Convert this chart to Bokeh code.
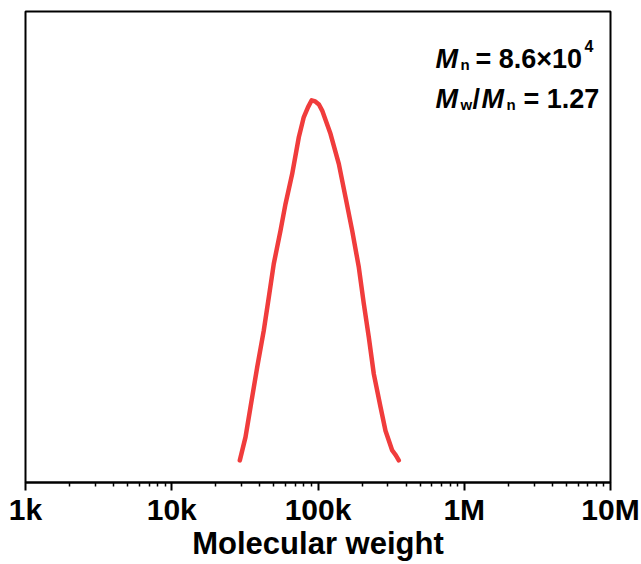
from bokeh.plotting import figure
from bokeh.models import Range1d, FixedTicker, Label
from bokeh.embed import file_html
from bokeh.resources import INLINE

# ---- data ----
mol_weight = [29200, 31940, 34550, 38400, 42600, 46080, 49850, 55410, 59950,
              66620, 73930, 79970, 85500, 90500, 95800, 101500, 106800, 121750,
              138800, 154200, 171300, 190100, 205700, 222600, 240700, 267600,
              289400, 321700, 340000, 356800]
intensity = [0.058, 0.119, 0.198, 0.303, 0.399, 0.486, 0.574, 0.661, 0.731,
             0.810, 0.906, 0.959, 0.985, 1.003, 1.000, 0.992, 0.976, 0.915,
             0.836, 0.749, 0.661, 0.565, 0.469, 0.381, 0.285, 0.198, 0.136,
             0.084, 0.072, 0.058]

major_ticks = [1e3, 1e4, 1e5, 1e6, 1e7]
major_labels = ["1k", "10k", "100k", "1M", "10M"]
minor_ticks = [m * d for d in [1e3, 1e4, 1e5, 1e6] for m in range(2, 10)]
x_title = "Molecular weight"

FONT = "Liberation Sans"
RED = "#F03C3C"

p = figure(width=641, height=564, x_axis_type="log",
           x_range=Range1d(1e3, 1e7), y_range=Range1d(0, 1.236),
           output_backend="svg", toolbar_location=None,
           min_border_left=25, min_border_right=31, min_border_top=11,
           min_border_bottom=82)

p.line(mol_weight, intensity, line_color=RED, line_width=4.5,
       line_join="round", line_cap="round")

p.xgrid.visible = False
p.ygrid.visible = False
p.yaxis.visible = False
p.outline_line_color = "black"
p.outline_line_width = 2
p.background_fill_color = "white"
p.border_fill_color = "white"

ax = p.xaxis[0]
ax.ticker = FixedTicker(ticks=major_ticks, minor_ticks=minor_ticks)
ax.major_label_overrides = {t: l for t, l in zip(major_ticks, major_labels)}
ax.axis_line_width = 2
ax.axis_line_color = "black"
ax.major_tick_in = 0
ax.major_tick_out = 8
ax.major_tick_line_width = 2
ax.minor_tick_in = 0
ax.minor_tick_out = 4
ax.minor_tick_line_width = 1.5
ax.major_label_text_font = FONT
ax.major_label_text_font_style = "bold"
ax.major_label_text_font_size = "30px"
ax.major_label_text_color = "black"
ax.major_label_standoff = 2
ax.axis_label = x_title
ax.axis_label_text_font = FONT
ax.axis_label_text_font_style = "bold"
ax.axis_label_text_font_size = "31px"
ax.axis_label_text_color = "black"
ax.axis_label_standoff = -3

# ---- annotation (positions relative to the frame, screen px) ----
def lab(text, x, y, size, style="bold", align="left"):
    p.add_layout(Label(x=x, y=y, x_units="screen", y_units="screen",
                       text=text, text_font=FONT, text_font_style=style,
                       text_font_size=size, text_color="black",
                       text_align=align, text_baseline="alphabetic"))

BIG = "27px"
SMALL = "15px"
# line 1
lab("M", 410, 424, BIG, "bold italic")
lab("n", 435, 418, SMALL, "bold")
lab("= 8.6×10", 450, 424, BIG, "bold")
lab("4", 559, 437, "16px", "bold")
# line 2
lab("M", 410, 384, BIG, "bold italic")
lab("w", 435, 378, SMALL, "bold")
lab("/", 447, 384, BIG, "bold")
lab("M", 456, 384, BIG, "bold italic")
lab("n", 481, 378, SMALL, "bold")
lab("= 1.27", 498, 384, BIG, "bold")

open("out.html", "w").write(file_html(p, INLINE))
